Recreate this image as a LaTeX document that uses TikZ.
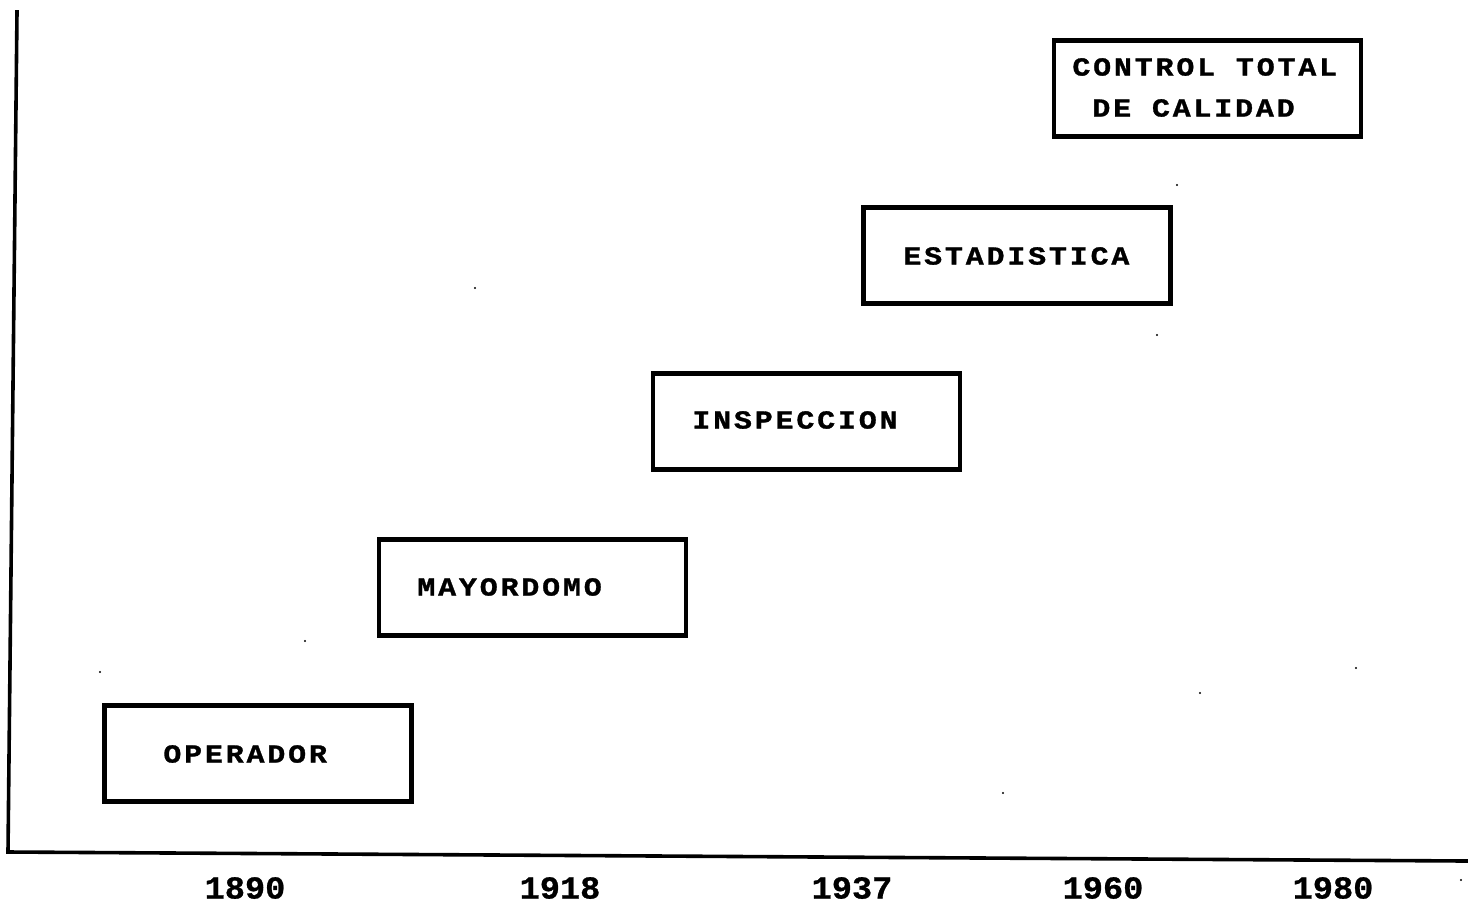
\documentclass[tikz,border=0pt]{standalone}
\usepackage{fontspec}
\newfontfamily\erafont[LetterSpace=11,FakeStretch=1.15,FakeBold=1.2]{Liberation Mono}
\newfontfamily\yearfont[FakeStretch=1.05,FakeBold=0.8]{Liberation Mono}
\begin{document}
\begin{tikzpicture}[x=0.5pt,y=-0.5pt,
  erabox/.style={draw, line width=2.1pt, minimum width=153.5pt, minimum height=48pt, inner sep=0pt},
  eratext/.style={anchor=west, inner sep=0pt, font=\erafont\bfseries\fontsize{13}{15}\selectfont},
  yeartext/.style={anchor=center, inner sep=0pt, font=\yearfont\bfseries\fontsize{16}{18}\selectfont},
  axis/.style={line width=1.8pt, line cap=rect},
  speck/.style={fill, circle, inner sep=0pt, minimum size=1.2pt}]
\useasboundingbox (0,0) rectangle (1471,910);

% axes
\coordinate (top) at (17,12);
\coordinate (origin) at (8,852);
\coordinate (right) at (1466,861);
\draw[axis] (top) -- (origin) -- (right);

% stages
\node[erabox] (b1) at (258,753.5) {};
\node[erabox] (b2) at (532.5,587.5) {};
\node[erabox] (b3) at (806.5,421.5) {};
\node[erabox] (b4) at (1017,255.5) {};
\node[erabox] (b5) at (1207.5,88.5) {};

\node[eratext] (t1) at (163,754) {OPERADOR};
\node[eratext] (t2) at (417,587) {MAYORDOMO};
\node[eratext] (t3) at (692,420) {INSPECCION};
\node[eratext] (t4) at (903,256) {ESTADISTICA};
\node[eratext] (t5a) at (1072,67) {CONTROL TOTAL};
\node[eratext] (t5b) at (1092,108) {DE CALIDAD};

% years on the time axis
\node[yeartext] (y1) at (245,888) {1890};
\node[yeartext] (y2) at (560,888) {1918};
\node[yeartext] (y3) at (852,888) {1937};
\node[yeartext] (y4) at (1103,888) {1960};
\node[yeartext] (y5) at (1333,888) {1980};

% loose specks
\foreach \p in {(475,288),(1177,185),(1157,335),(305,641),(100,672),(1356,668),(1200,693),(1003,793),(1461,880)}
  \node[speck] at \p {};
\end{tikzpicture}
\end{document}
